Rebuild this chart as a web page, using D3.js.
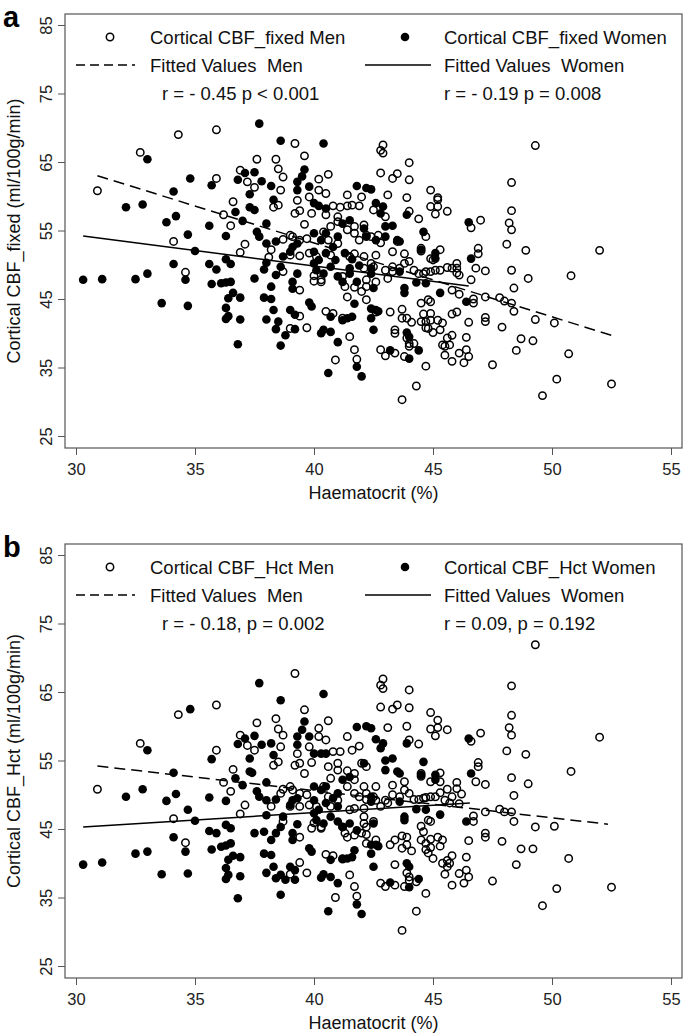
<!DOCTYPE html>
<html>
<head>
<meta charset="utf-8">
<script src="https://cdn.jsdelivr.net/npm/d3@7"></script>
<style>
  html, body { margin: 0; padding: 0; background: #fff; }
  svg { display: block; font-family: "Liberation Sans", Arial, sans-serif; }
</style>
</head>
<body>
<div id="chart"></div>
<script>
// Haematocrit vs cortical CBF, two stacked scatter panels (a: fixed, b: Hct corrected)

const xTicks = [30, 35, 40, 45, 50, 55];
const yTicks = [25, 35, 45, 55, 65, 75, 85];

// [haematocrit %, CBF ml/100g/min]
const menA = [
  [34.3,69.0],[35.9,69.7],[32.7,66.4],[30.9,60.8],[34.1,53.4],[34.6,48.9],[35.9,62.6],[36.2,57.3],[36.5,55.7],[36.6,59.2],
  [37.1,53.0],[36.9,51.8],[36.9,63.8],[37.2,62.1],[37.5,61.3],[37.6,65.4],[38.4,65.4],[38.5,64.0],[38.7,62.8],[38.6,60.9],
  [38.3,58.4],[38.5,58.7],[39.2,67.7],[39.6,65.9],[40.2,62.5],[40.6,63.2],[40.2,60.9],[40.5,60.4],[39.8,59.9],[39.3,59.4],
  [39.9,57.5],[39.2,57.5],[39.4,57.9],[39.6,55.9],[39.0,54.3],[38.7,53.7],[38.2,52.2],[38.1,51.1],[38.7,49.0],[40.0,47.6],
  [40.3,47.5],[39.4,46.3],[39.7,40.8],[39.0,40.7],[39.4,42.5],[40.5,43.2],[40.8,42.9],[41.2,42.2],[41.5,39.5],[41.7,37.6],
  [41.8,36.2],[40.9,36.1],[41.4,45.3],[42.0,46.1],[42.2,44.9],[41.4,58.6],[41.1,58.4],[40.8,58.6],[41.6,58.7],[41.9,58.6],
  [41.4,60.2],[42.0,59.9],[40.5,57.3],[41.0,57.0],[41.0,56.3],[40.7,55.6],[40.4,54.8],[41.7,55.6],[41.4,55.1],[42.1,55.8],
  [41.7,54.6],[41.9,53.6],[42.2,54.3],[40.6,53.6],[41.0,53.1],[39.1,54.1],[39.4,53.6],[39.7,53.8],[39.0,51.4],[39.4,51.3],
  [39.8,51.7],[40.1,51.2],[40.7,51.4],[41.5,51.2],[41.7,51.6],[42.1,51.2],[40.0,48.4],[40.3,47.8],[41.2,48.3],[41.3,46.8],
  [41.7,46.7],[42.1,49.5],[42.2,47.8],
  [42.9,67.5],[42.8,66.7],[42.9,66.3],[44.0,64.9],[42.8,63.4],[43.5,63.3],[43.3,62.6],[44.0,62.4],[43.1,60.2],[43.9,59.8],
  [44.9,60.9],[45.2,59.8],[45.2,59.5],[45.6,57.8],[44.9,58.5],[45.2,58.5],[45.1,57.4],[44.0,57.8],[44.4,56.7],[42.5,58.0],
  [43.0,57.0],[42.4,54.1],[42.7,54.3],[42.8,53.2],[43.5,53.4],[44.7,54.1],[44.5,52.4],[44.5,52.0],[46.6,55.4],[47.0,56.5],
  [45.3,52.2],[44.9,50.9],[45.0,50.7],[46.9,52.4],[46.9,51.6],[48.1,53.0],[48.3,62.0],[49.3,67.4],[48.3,57.9],[48.2,56.1],
  [48.3,55.1],[48.9,52.1],[52.0,52.1],[48.3,49.2],[49.0,48.0],[48.4,46.6],[50.8,48.4],[47.2,49.1],[46.8,49.5],[46.6,47.8],
  [46.0,50.2],[46.0,49.5],[46.1,48.5],[45.6,49.6],[45.3,49.2],[45.8,46.3],[46.1,45.7],[46.7,45.0],[46.7,44.4],[47.2,45.3],
  [47.8,45.2],[48.0,44.7],[48.3,44.4],[48.4,43.2],[49.3,42.0],[50.1,41.5],[47.2,42.3],[47.2,41.7],[47.9,40.9],[48.7,39.2],
  [49.2,38.9],[48.5,37.5],[50.7,37.0],[50.2,33.3],[49.6,30.9],[52.5,32.6],[47.5,35.4],[46.5,41.6],[46.4,39.4],[46.4,37.6],
  [46.5,36.6],[46.1,37.1],[46.3,35.7],[45.8,35.9],[45.5,36.8],[45.5,38.1],[45.4,38.3],[45.7,38.3],[45.6,39.3],[45.8,39.7],
  [45.3,40.5],[45.4,41.5],[45.2,41.9],[44.9,42.9],[44.9,41.9],[45.0,40.1],[45.8,42.8],[46.0,43.1],[44.7,40.8],[44.7,41.7],
  [44.8,40.7],[44.5,41.7],[44.6,42.8],[44.1,41.6],[44.5,44.4],[44.8,44.9],[44.9,44.6],[43.7,43.5],[43.9,42.2],[43.4,40.5],
  [43.2,43.1],[43.7,42.2],[44.7,35.2],[44.3,32.3],[43.7,30.3],[42.8,37.6],[43.0,36.7],[43.4,37.1],[43.8,36.6],[44.0,38.1],
  [44.0,38.5],[44.2,38.5],[46.0,48.8],[45.8,49.5],[42.6,47.5],[42.2,46.8],[43.1,48.0],[43.3,49.0],[43.6,49.5],[43.8,50.2],
  [44.0,50.5],[44.2,49.2],[44.4,48.7],[44.6,48.7],[44.7,49.0],[44.9,49.0],[45.1,49.2],[43.8,51.6],[43.3,51.9],[42.6,51.4],
  [42.4,50.2],[42.5,49.7],[43.0,49.2],[43.3,49.7],[42.6,43.1],[43.4,40.0],[43.9,39.3]
];

const womenA = [
  [37.7,70.6],[38.6,68.1],[40.4,67.7],[33.0,65.4],[34.8,62.6],[35.7,61.6],[34.1,60.7],[36.8,62.4],[37.1,63.4],[37.5,63.5],
  [37.8,62.2],[37.3,60.3],[38.2,61.5],[38.3,59.5],[39.3,62.1],[39.5,62.9],[39.6,63.9],[39.8,61.4],[39.3,60.9],[32.1,58.4],
  [32.8,58.8],[33.8,56.2],[34.2,57.1],[34.7,54.4],[35.6,55.7],[36.3,54.2],[36.7,57.7],[37.0,56.4],[37.3,58.4],[37.5,58.0],
  [38.0,56.0],[37.6,54.8],[37.7,54.1],[38.0,53.1],[38.4,53.4],[35.0,52.0],[35.6,50.1],[35.9,49.3],[36.3,50.8],[36.5,50.1],
  [34.1,50.1],[34.6,47.8],[33.0,48.7],[32.5,47.9],[31.1,47.9],[30.3,47.8],[33.6,44.4],[34.7,44.0],[35.7,47.2],[36.1,47.3],
  [36.3,47.4],[36.5,47.5],[36.6,45.9],[36.4,45.1],[36.9,45.2],[36.3,43.7],[36.3,42.1],[36.4,42.5],[36.9,42.0],[36.8,38.4],
  [37.5,48.0],[37.9,49.3],[37.9,45.2],[38.2,45.0],[38.2,46.8],[38.0,50.3],[38.0,42.0],[38.3,43.4],[38.5,41.7],[38.4,40.6],
  [38.6,38.2],[38.8,39.7],[39.0,43.4],[39.2,42.7],[39.2,40.6],[38.4,48.5],[38.6,49.7],[38.7,51.2],[39.0,51.9],[39.1,52.6],
  [39.3,53.1],[39.3,48.7],[39.1,47.5],[39.1,46.5],[39.8,44.5],[39.9,43.9],[40.0,51.9],[40.2,50.7],[40.3,40.0],[40.4,40.5],
  [40.7,40.2],[41.0,38.7],[40.6,34.2],[41.8,35.1],[42.0,33.7],[41.3,51.7],[41.6,50.8],[41.9,49.9],[41.5,49.5],[41.7,44.3],
  [41.6,42.4],[41.4,42.2],[41.2,41.9],[40.7,42.4],[41.8,61.5],[42.2,61.2],[40.0,59.0],[40.2,58.6],[40.5,58.2],[41.0,54.1],
  [41.2,56.0],[41.5,56.5],[40.0,54.6],[40.3,53.6],[40.5,54.6],[40.8,52.6],[40.5,51.7],[40.9,50.7],[40.0,50.2],[40.1,49.2],
  [40.4,48.7],[40.7,49.7],[41.0,48.3],[41.2,47.5],[41.5,48.7],[41.8,47.5],
  [42.4,61.0],[42.6,59.0],[42.9,58.5],[42.8,57.5],[42.1,55.3],[43.0,55.6],[43.3,55.7],[43.0,54.1],[43.5,53.6],[43.6,53.4],
  [43.9,57.3],[44.6,54.8],[44.5,52.2],[45.1,51.7],[45.1,50.9],[46.5,56.2],[46.6,50.9],[46.4,44.6],[45.3,45.9],[44.3,47.4],
  [43.8,46.6],[43.8,45.9],[42.5,46.6],[42.4,43.6],[42.6,43.4],[42.7,43.2],[42.4,42.2],[42.5,40.5],[43.9,40.1],[44.0,39.5],
  [43.2,37.5],[44.4,37.5],[44.0,36.3],[42.4,49.5],[42.4,48.7],[43.6,49.0],[42.2,54.1],[42.6,53.6],[44.7,47.3]
];

const menB = [
  [39.2,67.7],[34.3,61.7],[35.9,63.1],[32.7,57.5],[30.9,50.8],[34.1,46.5],[34.6,43.0],[35.9,56.5],[36.2,51.8],[36.5,50.5],
  [36.6,53.7],[37.1,48.5],[36.9,47.2],[36.9,58.7],[37.2,57.2],[37.5,56.5],[37.6,60.5],[38.4,61.1],[38.5,59.6],[38.7,58.7],
  [38.6,57.0],[38.3,54.3],[38.5,54.8],[39.6,62.4],[40.2,59.7],[40.6,60.8],[40.2,58.5],[40.5,58.0],[39.8,57.0],[39.3,56.0],
  [39.9,54.7],[39.2,54.3],[39.4,54.6],[39.6,53.1],[39.0,51.2],[38.7,50.8],[38.6,50.2],[38.2,48.3],[38.7,46.1],[39.9,45.1],
  [40.3,45.1],[39.4,43.8],[39.7,38.6],[39.0,38.4],[39.4,40.1],[40.5,41.3],[40.8,41.1],[41.2,40.6],[41.5,38.3],[41.7,36.6],
  [41.8,35.2],[40.9,35.0],[41.4,43.8],[42.0,44.4],[42.2,44.2],[41.4,58.5],[41.1,56.3],[40.8,56.3],[41.6,56.5],[41.9,57.1],
  [41.4,53.5],[41.7,53.1],[42.0,54.6],[42.2,54.1],[40.6,54.1],[41.0,54.6],[41.0,53.6],[40.7,52.4],[40.4,51.2],[41.7,52.2],
  [41.4,51.2],[42.1,51.2],[41.7,50.2],[41.9,49.7],[42.2,50.2],[40.6,49.7],[41.0,49.2],[39.1,50.7],[39.4,50.2],[39.7,50.0],
  [39.0,48.3],[39.4,48.3],[39.8,48.5],[40.1,48.3],[40.7,48.3],[41.5,47.8],[41.7,48.0],[42.1,48.0],[40.0,45.9],[40.3,45.3],
  [41.2,45.3],[41.3,44.4],[41.7,44.1],[42.1,46.8],[42.2,45.3],
  [49.3,71.9],[42.9,66.9],[42.8,66.0],[42.9,65.5],[44.0,65.3],[48.3,65.9],[42.8,62.8],[43.5,63.1],[43.3,62.5],[44.0,62.7],
  [44.9,62.0],[45.2,60.9],[45.2,59.8],[45.6,59.5],[44.9,59.6],[45.1,58.6],[43.1,59.8],[43.9,60.0],[44.0,58.0],[44.4,57.4],
  [48.3,61.6],[48.2,59.8],[48.3,58.7],[47.0,59.0],[46.6,57.8],[48.1,56.4],[48.9,55.9],[52.0,58.4],[50.8,53.4],[48.3,52.5],
  [49.0,51.6],[48.4,49.9],[46.9,54.7],[46.9,54.1],[46.8,51.9],[47.2,51.5],[46.0,51.8],[46.0,50.9],[46.2,50.1],[45.6,50.8],
  [45.3,53.2],[45.3,51.9],[44.5,53.1],[44.5,52.7],[44.9,51.9],[45.8,49.7],[46.1,48.7],[46.7,46.9],[46.7,46.1],[47.2,47.5],
  [47.8,47.9],[48.0,47.5],[48.3,47.5],[48.4,46.1],[49.3,45.3],[50.1,45.4],[47.2,44.4],[47.2,43.8],[47.9,43.2],[48.7,42.1],
  [49.2,42.1],[48.5,39.8],[50.7,40.7],[50.2,36.3],[52.5,36.5],[47.5,37.4],[46.5,43.3],[46.4,40.9],[46.4,39.0],[46.5,38.0],
  [46.1,38.5],[46.3,37.1],[45.8,36.8],[45.5,38.4],[45.6,39.5],[45.4,40.0],[45.7,40.0],[45.8,41.1],[45.6,40.4],[45.3,42.5],
  [45.4,43.4],[45.2,43.8],[44.9,43.5],[44.9,42.3],[45.0,40.7],[44.7,42.0],[44.7,42.9],[44.8,41.5],[44.5,43.4],[44.6,44.6],
  [44.1,41.8],[44.5,45.4],[44.8,46.3],[44.9,46.1],[43.7,44.0],[43.9,43.8],[43.4,39.8],[43.2,42.7],[43.7,42.2],[44.7,35.6],
  [44.0,38.0],[43.9,38.6],[44.0,37.5],[44.3,37.3],[42.8,37.1],[43.0,36.6],[43.4,36.8],[43.8,36.6],[42.2,49.3],[42.6,49.2],
  [42.8,48.3],[43.1,48.8],[43.3,50.0],[43.6,49.7],[43.8,50.7],[44.0,50.2],[44.2,49.3],[44.4,49.3],[44.6,49.5],[44.7,49.6],
  [44.9,49.7],[45.1,49.7],[45.3,50.3],[45.5,49.2],[45.7,48.8],[43.8,51.9],[43.3,51.4],[42.6,51.2],[42.5,49.7],[43.0,49.2],
  [42.6,43.4],[43.4,43.4],[43.9,42.7],[42.1,45.8],[42.5,46.1],[42.2,42.9],[49.6,33.8],[44.3,33.0],[43.7,30.2]
];

const womenB = [
  [37.7,66.3],[38.6,63.8],[40.4,64.7],[33.0,56.5],[34.8,62.5],[35.7,55.2],[34.1,53.2],[36.8,57.4],[37.1,58.2],[37.5,58.6],
  [37.8,57.3],[37.3,55.3],[38.2,57.5],[38.3,55.8],[39.3,58.5],[39.5,59.5],[39.6,60.7],[39.8,58.5],[39.3,57.3],[32.1,49.7],
  [32.8,50.8],[33.8,49.1],[34.2,50.1],[34.7,47.8],[35.6,49.6],[36.3,49.1],[36.7,52.4],[37.0,51.4],[37.3,53.4],[37.4,53.2],
  [38.0,51.8],[37.6,50.5],[37.7,49.7],[38.0,49.2],[38.4,49.3],[35.0,46.2],[35.6,44.7],[35.9,44.4],[36.3,45.6],[36.5,45.1],
  [34.1,43.8],[34.6,41.7],[33.0,41.7],[32.5,41.4],[31.1,40.1],[30.3,39.8],[33.6,38.4],[34.7,38.5],[35.7,42.0],[36.1,42.4],
  [36.3,42.6],[36.5,42.9],[36.6,41.1],[36.4,40.5],[36.9,40.9],[36.3,39.3],[36.3,37.7],[36.4,38.3],[36.9,38.1],[36.8,34.9],
  [37.5,44.4],[37.9,44.6],[37.9,41.4],[38.2,41.2],[38.2,43.4],[38.0,47.0],[38.0,38.6],[38.3,39.5],[38.6,38.3],[38.4,37.8],
  [38.6,35.4],[38.8,37.6],[39.0,39.5],[39.2,39.0],[39.2,37.6],[38.4,44.4],[38.6,45.3],[38.7,46.8],[39.0,48.5],[39.1,49.2],
  [39.3,49.5],[39.3,45.7],[39.1,44.4],[39.1,43.4],[39.8,42.2],[39.9,41.7],[40.0,49.2],[40.2,47.8],[40.3,37.9],[40.4,38.4],
  [40.7,38.0],[41.0,37.1],[41.8,59.9],[42.2,60.0],[40.0,56.0],[40.3,56.0],[40.5,56.0],[41.0,50.2],[41.2,52.2],[41.5,52.6],
  [40.0,51.2],[40.3,50.7],[40.5,51.2],[40.8,49.5],[40.5,48.8],[41.0,48.3],[40.0,47.3],[40.1,46.3],[40.4,45.8],[40.7,46.8],
  [41.0,46.1],[41.2,45.3],[41.5,45.8],[41.8,44.8],[41.7,41.9],[41.6,40.9],[41.4,40.7],[41.2,40.7],[40.7,40.5],
  [42.4,59.7],[42.6,58.1],[42.9,57.5],[42.8,56.8],[42.1,54.6],[43.0,55.0],[43.3,55.3],[43.0,53.6],[43.5,53.4],[43.6,53.1],
  [43.9,57.5],[44.6,54.8],[44.5,52.9],[45.1,52.9],[45.1,52.2],[46.5,58.2],[46.6,53.1],[46.4,46.1],[45.3,47.1],[44.3,47.9],
  [43.8,46.8],[43.8,46.3],[42.5,45.8],[42.4,42.7],[42.6,42.7],[42.7,42.5],[42.4,41.4],[42.5,39.5],[43.9,40.0],[44.0,39.5],
  [43.2,37.2],[44.4,37.7],[44.0,36.5],[42.4,49.7],[42.4,49.0],[43.6,49.0],[44.7,47.8],[40.6,33.0],[41.8,34.0],[42.0,32.6]
];

// fitted regression lines, [start, end] in data units
const fitMenA = [[30.9, 63.0], [52.5, 39.7]];
const fitWomenA = [[30.3, 54.2], [46.5, 46.9]];
const fitMenB = [[30.9, 54.2], [52.35, 45.7]];
const fitWomenB = [[30.3, 45.3], [46.55, 48.8]];

const letters = ['a', 'b'];
const yTitles = ['Cortical CBF_fixed (ml/100g/min)', 'Cortical CBF_Hct (ml/100g/min)'];
const menLabels = ['Cortical CBF_fixed Men', 'Cortical CBF_Hct Men'];
const womenLabels = ['Cortical CBF_fixed Women', 'Cortical CBF_Hct Women'];
const menStats = ['r = - 0.45 p < 0.001', 'r = - 0.18, p = 0.002'];
const womenStats = ['r = - 0.19 p = 0.008', 'r = 0.09, p = 0.192'];
const xTitle = 'Haematocrit (%)';

const W = 685, H = 1036;
const PANEL_DY = 530;
const box = { left: 65, right: 682, top: 14, bottom: 448 };
const FRAME = '#555';

const svg = d3.select('#chart').append('svg')
  .attr('width', W).attr('height', H).attr('viewBox', `0 0 ${W} ${H}`);

const x = d3.scaleLinear().domain([30, 55]).range([76, 671]);
const y = d3.scaleLinear().domain([25, 85]).range([436, 25]);

const panels = [
  { men: menA, women: womenA, fitMen: fitMenA, fitWomen: fitWomenA },
  { men: menB, women: womenB, fitMen: fitMenB, fitWomen: fitWomenB },
];

panels.forEach((p, i) => {
  const g = svg.append('g').attr('transform', `translate(0,${i * PANEL_DY})`);

  // axes, ticks outside the frame
  const yAxisG = g.append('g').attr('transform', `translate(${box.left},0)`)
    .call(d3.axisLeft(y).tickValues(yTicks).tickSize(7).tickFormat(d3.format('d')));
  yAxisG.select('.domain').remove();
  yAxisG.selectAll('line').attr('stroke', FRAME);
  yAxisG.selectAll('text')
    .attr('x', null).attr('dy', null)
    .attr('transform', 'translate(-13,0) rotate(-90)')
    .attr('text-anchor', 'middle')
    .attr('font-size', 16.5).attr('fill', '#222');

  const xAxisG = g.append('g').attr('transform', `translate(0,${box.bottom})`)
    .call(d3.axisBottom(x).tickValues(xTicks).tickSize(7).tickPadding(8).tickFormat(d3.format('d')));
  xAxisG.select('.domain').remove();
  xAxisG.selectAll('line').attr('stroke', FRAME);
  xAxisG.selectAll('text').attr('font-size', 16.5).attr('fill', '#222');

  g.append('rect')
    .attr('x', box.left).attr('y', box.top)
    .attr('width', box.right - box.left).attr('height', box.bottom - box.top)
    .attr('fill', 'none').attr('stroke', FRAME).attr('stroke-width', 1.2);

  // points: men hollow, women solid on top
  g.append('g').selectAll('circle').data(p.men).join('circle')
    .attr('cx', d => x(d[0])).attr('cy', d => y(d[1])).attr('r', 3.7)
    .attr('fill', 'none').attr('stroke', '#000').attr('stroke-width', 1.5);
  g.append('g').selectAll('circle').data(p.women).join('circle')
    .attr('cx', d => x(d[0])).attr('cy', d => y(d[1])).attr('r', 4.3)
    .attr('fill', '#000');

  const line = d3.line().x(d => x(d[0])).y(d => y(d[1]));
  g.append('path').attr('d', line(p.fitMen))
    .attr('fill', 'none').attr('stroke', '#000').attr('stroke-width', 1.5)
    .attr('stroke-dasharray', '11 6');
  g.append('path').attr('d', line(p.fitWomen))
    .attr('fill', 'none').attr('stroke', '#000').attr('stroke-width', 1.5);

  // legend
  const lg = g.append('g').attr('font-size', 18.5).attr('fill', '#111');
  lg.append('circle').attr('cx', 110).attr('cy', 37).attr('r', 3.7)
    .attr('fill', 'none').attr('stroke', '#000').attr('stroke-width', 1.5);
  lg.append('circle').attr('cx', 405).attr('cy', 37).attr('r', 4.3).attr('fill', '#000');
  lg.append('line').attr('x1', 76).attr('x2', 135).attr('y1', 65).attr('y2', 65)
    .attr('stroke', '#000').attr('stroke-width', 1.5).attr('stroke-dasharray', '9 5');
  lg.append('line').attr('x1', 365).attr('x2', 431).attr('y1', 65).attr('y2', 65)
    .attr('stroke', '#000').attr('stroke-width', 1.5);
  lg.append('text').attr('x', 150).attr('y', 43.5).text(menLabels[i]);
  lg.append('text').attr('x', 444).attr('y', 43.5).text(womenLabels[i]);
  lg.append('text').attr('x', 150).attr('y', 72).text('Fitted Values\u00a0\u00a0Men');
  lg.append('text').attr('x', 444).attr('y', 72).text('Fitted Values\u00a0\u00a0Women');
  lg.append('text').attr('x', 162).attr('y', 100).text(menStats[i]);
  lg.append('text').attr('x', 444).attr('y', 100).text(womenStats[i]);

  // titles
  g.append('text')
    .attr('transform', `translate(20,${(box.top + box.bottom) / 2}) rotate(-90)`)
    .attr('text-anchor', 'middle').attr('font-size', 18).attr('fill', '#111')
    .text(yTitles[i]);
  g.append('text')
    .attr('x', (box.left + box.right) / 2).attr('y', 499)
    .attr('text-anchor', 'middle').attr('font-size', 18).attr('fill', '#111')
    .text(xTitle);
  g.append('text').attr('x', 3).attr('y', 27)
    .attr('font-size', 29).attr('font-weight', 'bold').attr('fill', '#000')
    .text(letters[i]);
});
</script>
</body>
</html>
